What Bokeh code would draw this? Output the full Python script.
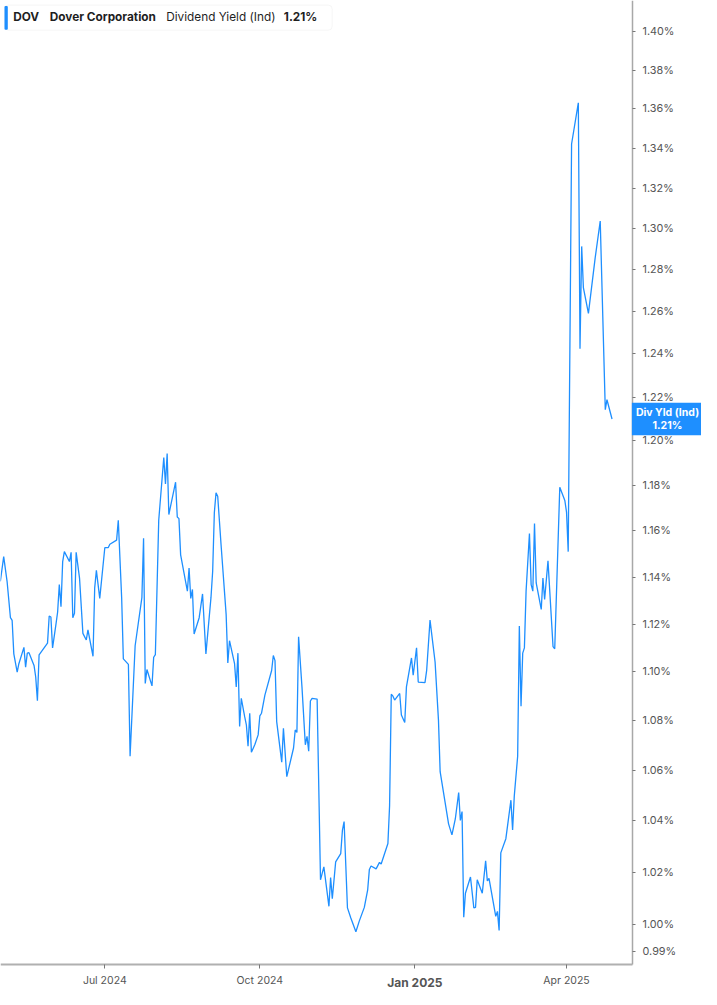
import pandas as pd
from bokeh.plotting import figure
from bokeh.models import (FixedTicker, PrintfTickFormatter, CustomJSTickFormatter,
                          Range1d, Label, BoxAnnotation)
from bokeh.embed import file_html
from bokeh.resources import INLINE

# ---------------- data ----------------
dates = [
    "2024-04-30", "2024-05-02", "2024-05-04", "2024-05-06", "2024-05-07", "2024-05-08",
    "2024-05-10", "2024-05-11", "2024-05-14", "2024-05-15", "2024-05-16", "2024-05-17",
    "2024-05-20", "2024-05-21", "2024-05-22", "2024-05-23", "2024-05-28", "2024-05-29",
    "2024-05-30", "2024-05-31", "2024-06-02", "2024-06-03", "2024-06-04", "2024-06-05",
    "2024-06-06", "2024-06-07", "2024-06-10", "2024-06-11", "2024-06-12", "2024-06-13",
    "2024-06-14", "2024-06-16", "2024-06-18", "2024-06-20", "2024-06-21", "2024-06-24",
    "2024-06-25", "2024-06-26", "2024-06-28", "2024-07-01", "2024-07-03", "2024-07-04",
    "2024-07-08", "2024-07-09", "2024-07-11", "2024-07-12", "2024-07-15", "2024-07-16",
    "2024-07-19", "2024-07-23", "2024-07-24", "2024-07-25", "2024-07-26", "2024-07-29",
    "2024-07-30", "2024-07-31", "2024-08-02", "2024-08-05", "2024-08-06", "2024-08-07",
    "2024-08-08", "2024-08-12", "2024-08-13", "2024-08-14", "2024-08-15", "2024-08-19",
    "2024-08-20", "2024-08-21", "2024-08-22", "2024-08-23", "2024-08-26", "2024-08-28",
    "2024-08-30", "2024-09-02", "2024-09-03", "2024-09-04", "2024-09-05", "2024-09-06",
    "2024-09-08", "2024-09-11", "2024-09-12", "2024-09-13", "2024-09-16", "2024-09-17",
    "2024-09-18", "2024-09-19", "2024-09-20", "2024-09-22", "2024-09-23", "2024-09-24",
    "2024-09-25", "2024-09-26", "2024-09-28", "2024-09-30", "2024-10-01", "2024-10-02",
    "2024-10-04", "2024-10-08", "2024-10-09", "2024-10-10", "2024-10-11", "2024-10-14",
    "2024-10-15", "2024-10-17", "2024-10-21", "2024-10-22", "2024-10-23", "2024-10-24",
    "2024-10-26", "2024-10-28", "2024-10-29", "2024-10-30", "2024-10-31", "2024-11-01",
    "2024-11-04", "2024-11-06", "2024-11-08", "2024-11-11", "2024-11-12", "2024-11-13",
    "2024-11-15", "2024-11-18", "2024-11-19", "2024-11-20", "2024-11-22", "2024-11-24",
    "2024-11-27", "2024-11-29", "2024-12-02", "2024-12-04", "2024-12-05", "2024-12-06",
    "2024-12-09", "2024-12-11", "2024-12-12", "2024-12-16", "2024-12-17", "2024-12-18",
    "2024-12-19", "2024-12-20", "2024-12-23", "2024-12-24", "2024-12-26", "2024-12-27",
    "2024-12-30", "2024-12-31", "2025-01-02", "2025-01-03", "2025-01-07", "2025-01-08",
    "2025-01-10", "2025-01-13", "2025-01-15", "2025-01-16", "2025-01-21", "2025-01-23",
    "2025-01-25", "2025-01-27", "2025-01-28", "2025-01-29", "2025-01-30", "2025-01-31",
    "2025-02-03", "2025-02-05", "2025-02-06", "2025-02-07", "2025-02-10", "2025-02-12",
    "2025-02-13", "2025-02-14", "2025-02-18", "2025-02-19", "2025-02-20", "2025-02-21",
    "2025-02-24", "2025-02-27", "2025-02-28", "2025-03-01", "2025-03-03", "2025-03-04",
    "2025-03-05", "2025-03-06", "2025-03-07", "2025-03-08", "2025-03-10", "2025-03-11",
    "2025-03-12", "2025-03-13", "2025-03-14", "2025-03-17", "2025-03-18", "2025-03-19",
    "2025-03-21", "2025-03-24", "2025-03-25", "2025-03-28", "2025-03-31", "2025-04-01",
    "2025-04-02", "2025-04-04", "2025-04-08", "2025-04-09", "2025-04-10", "2025-04-11",
    "2025-04-14", "2025-04-18", "2025-04-21", "2025-04-24", "2025-04-25", "2025-04-28",
]
yields = [
    1.1382, 1.1488, 1.1382, 1.1227, 1.1216, 1.1075,
    1.0999, 1.1034, 1.1102, 1.1020, 1.1078, 1.1080,
    1.1027, 1.0979, 1.0881, 1.1071, 1.1120, 1.1234,
    1.1230, 1.1100, 1.1199, 1.1251, 1.1368, 1.1274,
    1.1467, 1.1510, 1.1467, 1.1507, 1.1227, 1.1246,
    1.1507, 1.1396, 1.1161, 1.1133, 1.1176, 1.1065,
    1.1354, 1.1429, 1.1309, 1.1527, 1.1527, 1.1542,
    1.1560, 1.1647, 1.1312, 1.1054, 1.1031, 1.0656,
    1.1109, 1.1312, 1.1568, 1.0952, 1.1010, 1.0942,
    1.1061, 1.1072, 1.1647, 1.1925, 1.1807, 1.1943,
    1.1672, 1.1815, 1.1661, 1.1654, 1.1496, 1.1340,
    1.1439, 1.1309, 1.1347, 1.1158, 1.1227, 1.1328,
    1.1075, 1.1312, 1.1424, 1.1680, 1.1768, 1.1753,
    1.1539, 1.1241, 1.1037, 1.1130, 1.1034, 1.0938,
    1.1078, 1.0776, 1.0891, 1.0816, 1.0783, 1.0696,
    1.0830, 1.0672, 1.0702, 1.0742, 1.0819, 1.0830,
    1.0904, 1.1006, 1.1068, 1.1047, 1.0796, 1.0632,
    1.0769, 1.0574, 1.0689, 1.0762, 1.0752, 1.1147,
    1.0938, 1.0702, 1.0736, 1.0676, 1.0880, 1.0891,
    1.0888, 1.0171, 1.0221, 1.0070, 1.0180, 1.0099,
    1.0240, 1.0272, 1.0362, 1.0397, 1.0064, 1.0026,
    0.9974, 1.0014, 1.0066, 1.0133, 1.0211, 1.0224,
    1.0213, 1.0238, 1.0232, 1.0311, 1.0459, 1.0908,
    1.0900, 1.0884, 1.0911, 1.0823, 1.0792, 1.0938,
    1.1058, 1.0986, 1.1100, 1.0958, 1.0956, 1.1006,
    1.1217, 1.1041, 1.0803, 1.0594, 1.0388, 1.0345,
    1.0407, 1.0511, 1.0401, 1.0436, 1.0029, 1.0120,
    1.0182, 1.0064, 1.0066, 1.0171, 1.0120, 1.0244,
    1.0167, 1.0177, 1.0032, 1.0051, 0.9979, 1.0275,
    1.0330, 1.0481, 1.0364, 1.0498, 1.0656, 1.1192,
    1.0859, 1.1078, 1.1100, 1.1340, 1.1589, 1.1368,
    1.1340, 1.1633, 1.1375, 1.1262, 1.1396, 1.1304,
    1.1470, 1.1105, 1.1096, 1.1793, 1.1734, 1.1683,
    1.1510, 1.3421, 1.3631, 1.2425, 1.2913, 1.2714,
    1.2591, 1.2857, 1.3037, 1.2142, 1.2188, 1.2100,
]
x_tick_dates = ["2024-07-01", "2024-10-01", "2025-01-01", "2025-04-01"]
bold_tick_label = "Jan 2025"
bold_tick_date = "2025-01-01"
y_ticks = [0.99, 1.00, 1.02, 1.04, 1.06, 1.08, 1.10, 1.12, 1.14, 1.16, 1.18,
           1.20, 1.22, 1.24, 1.26, 1.28, 1.30, 1.32, 1.34, 1.36, 1.38, 1.40]
# visible window (whole canvas) and axis positions
y_view = (0.97593, 1.41666)
x_view = ("2024-04-30 02:24", "2025-06-20 02:24")
x_axis_at = 0.98507              # yield level where the date axis sits
y_axis_at = "2025-05-10 05:00"   # date where the yield axis sits

legend_ticker = "DOV"
legend_company = "Dover Corporation"
legend_metric = "Dividend Yield (Ind)"
legend_value = "1.21%"
tag_text = "Div Yld (Ind)\n1.21%"
last_value = yields[-1]

# ---------------- styling ----------------
FONT = "Inter"
BLUE = "#1e8fff"
W, H = 701, 989


def ms(s):
    return pd.Timestamp(s).value / 1e6


p = figure(width=W, height=H, title=None,
           x_axis_type="datetime", y_axis_type="log", y_axis_location="right",
           x_range=Range1d(ms(x_view[0]), ms(x_view[1])),
           y_range=Range1d(*y_view),
           output_backend="svg", toolbar_location=None,
           min_border_left=0, min_border_top=0,
           min_border_right=0, min_border_bottom=0)
p.xgrid.visible = False
p.ygrid.visible = False
p.outline_line_color = None
p.background_fill_color = "white"
p.border_fill_color = "white"

p.line(x=pd.to_datetime(dates), y=yields, line_color=BLUE, line_width=1.3)

ya = p.yaxis[0]
ya.fixed_location = ms(y_axis_at)
ya.bounds = (x_axis_at, y_view[1])
ya.ticker = FixedTicker(ticks=y_ticks, minor_ticks=[])
ya.formatter = PrintfTickFormatter(format="%.2f%%")
ya.axis_line_color = "#a8a8a8"
ya.axis_line_width = 1.5
ya.major_tick_in = 0
ya.major_tick_out = 3
ya.minor_tick_in = 0
ya.minor_tick_out = 0
ya.major_tick_line_color = "#777777"
ya.major_label_standoff = 7
ya.major_label_text_font = FONT
ya.major_label_text_font_size = "10.8px"
ya.major_label_text_color = "#555555"

xa = p.xaxis[0]
xa.fixed_location = x_axis_at
xa.bounds = (ms(x_view[0]), ms(y_axis_at))
xa.ticker = FixedTicker(ticks=[ms(d) for d in x_tick_dates], minor_ticks=[])
xa.formatter = CustomJSTickFormatter(code="""
const d = new Date(tick);
const m = d.getUTCMonth();
if (m === 0) { return ""; }
const names = ["Jan","Feb","Mar","Apr","May","Jun","Jul","Aug","Sep","Oct","Nov","Dec"];
return names[m] + " " + d.getUTCFullYear();
""")
xa.axis_line_color = "#b0b0b0"
xa.axis_line_width = 2
xa.major_tick_in = 0
xa.major_tick_out = 4
xa.minor_tick_in = 0
xa.minor_tick_out = 0
xa.major_tick_line_color = "#777777"
xa.major_label_standoff = 5
xa.major_label_text_font = FONT
xa.major_label_text_font_size = "10.5px"
xa.major_label_text_color = "#555555"

# bold "Jan 2025" label under its tick
p.add_layout(Label(x=ms(bold_tick_date), y=7.5, x_units="data", y_units="screen",
                   text=bold_tick_label, text_font=FONT, text_font_style="bold",
                   text_font_size="12px", text_color="#555555",
                   text_align="center", text_baseline="middle"))

# legend box at top-left
p.add_layout(BoxAnnotation(left=4.0, right=331.7, top=984.4, bottom=959.3,
                           left_units="screen", right_units="screen",
                           top_units="screen", bottom_units="screen",
                           fill_color="white", fill_alpha=1.0,
                           line_color="#e2e2e2", line_width=1, border_radius=4))
p.add_layout(BoxAnnotation(left=4.0, right=7.3, top=983.6, bottom=959.8,
                           left_units="screen", right_units="screen",
                           top_units="screen", bottom_units="screen",
                           fill_color=BLUE, fill_alpha=1.0, line_color=None,
                           border_radius=1))
for txt, xpos, style in [(legend_ticker, 12.7, "bold"),
                         (legend_company, 49.3, "bold"),
                         (legend_metric, 165.7, "normal"),
                         (legend_value, 283.3, "bold")]:
    p.add_layout(Label(x=xpos, y=972.9, x_units="screen", y_units="screen",
                       text=txt, text_font=FONT, text_font_style=style,
                       text_font_size="11.8px", text_color="#1f1f1f",
                       text_align="left", text_baseline="middle"))

# last-value tag on the yield axis
p.add_layout(Label(x=667.0, y=last_value, x_units="screen", y_units="data",
                   text=tag_text, text_font=FONT, text_font_style="bold",
                   text_font_size="10.5px", text_color="white", text_line_height=1.05,
                   text_align="center", text_baseline="middle",
                   background_fill_color=BLUE, background_fill_alpha=1.0,
                   padding=dict(left=4, right=4, top=3, bottom=3)))

open("out.html", "w").write(file_html(p, INLINE))
